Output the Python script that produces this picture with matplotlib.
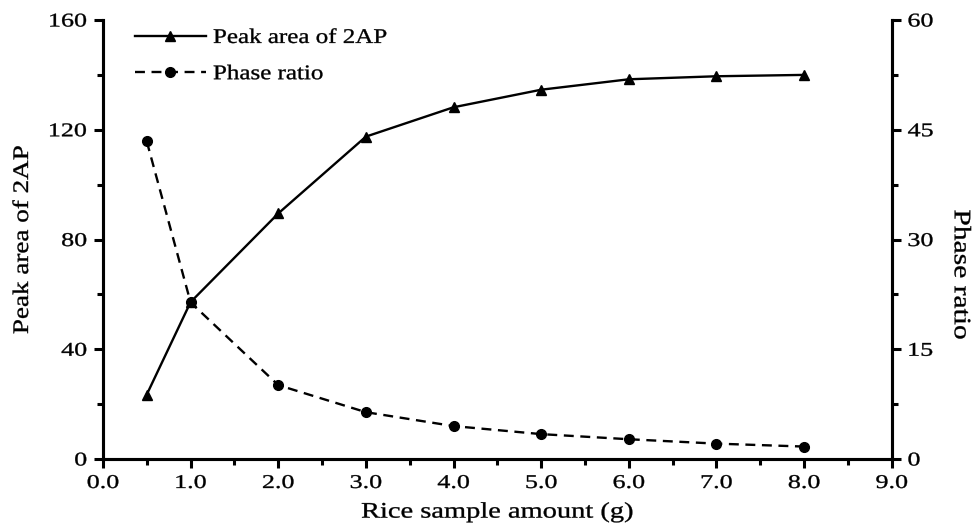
import matplotlib
matplotlib.use("Agg")
import matplotlib.pyplot as plt
from matplotlib.ticker import MultipleLocator, FormatStrFormatter
from matplotlib.patheffects import AbstractPathEffect
from matplotlib.transforms import Affine2D

plt.rcParams['font.family'] = ['Liberation Serif', 'DejaVu Serif']

rice_amount = [0.5, 1.0, 2.0, 3.0, 4.0, 5.0, 6.0, 7.0, 8.0]
peak_area = [23.5, 57.2, 89.5, 117.5, 128.2, 134.6, 138.4, 139.5, 140.0]
phase_ratio = [43.4, 21.4, 10.1, 6.4, 4.5, 3.4, 2.7, 2.1, 1.7]


class StretchX(AbstractPathEffect):
    """Widen glyphs along the text direction around an anchor, slightly emboldened."""
    def __init__(self, sx, anchor='center', weight=0.25):
        super().__init__()
        self.sx = sx
        self.anchor = anchor
        self.weight = weight

    def draw_path(self, renderer, gc, tpath, affine, rgbFace=None):
        ext = tpath.get_extents()
        if self.anchor == 'left':
            px = ext.x0
        elif self.anchor == 'right':
            px = ext.x1
        else:
            px = 0.5 * (ext.x0 + ext.x1)
        t = Affine2D().translate(-px, 0).scale(self.sx, 1).translate(px, 0) + affine
        gc0 = renderer.new_gc()
        gc0.copy_properties(gc)
        gc0.set_linewidth(self.weight)
        if rgbFace is not None:
            gc0.set_foreground(rgbFace)
        renderer.draw_path(gc0, tpath, t, rgbFace)
        gc0.restore()


fig = plt.figure(figsize=(9.75, 5.31), dpi=100)
ax = fig.add_axes([0.1056, 0.1356, 0.809, 0.8267])
ax2 = ax.twinx()

l1, = ax.plot(rice_amount, peak_area, '-', color='black', lw=1.7,
              marker='^', markersize=7.5, label='Peak area of 2AP')
l2, = ax2.plot(rice_amount, phase_ratio, '--', color='black', lw=1.7,
               dashes=(4.2, 2.8), marker='o', markersize=7, label='Phase ratio')

ax.set_xlim(0, 9)
ax.set_ylim(0, 160)
ax2.set_ylim(0, 60)

ax.xaxis.set_major_locator(MultipleLocator(1))
ax.xaxis.set_minor_locator(MultipleLocator(0.5))
ax.xaxis.set_major_formatter(FormatStrFormatter('%.1f'))
ax.yaxis.set_major_locator(MultipleLocator(40))
ax.yaxis.set_minor_locator(MultipleLocator(20))
ax2.yaxis.set_major_locator(MultipleLocator(15))
ax2.yaxis.set_minor_locator(MultipleLocator(7.5))

for a in (ax, ax2):
    a.spines['top'].set_visible(False)
    for s in ('left', 'right', 'bottom'):
        a.spines[s].set_linewidth(2.2)
    a.tick_params(which='major', direction='out', length=6.5, width=2.2,
                  labelsize=14, pad=5)
    a.tick_params(which='minor', direction='out', length=4, width=2.2)

ax.set_xlabel('Rice sample amount (g)', fontsize=16)
ax.xaxis.set_label_coords(0.5, -0.1)
ax.set_ylabel('Peak area of 2AP', fontsize=16)
ax.yaxis.set_label_coords(-0.0887, 0.5)
ax2.set_ylabel('Phase ratio', fontsize=17, rotation=270, va='bottom')
ax2.yaxis.set_label_coords(1.0735, 0.42)

leg = ax.legend(handles=[l1, l2], loc='upper left', bbox_to_anchor=(0.0406, 0.981),
                frameon=False, fontsize=15, handlelength=3.4, handletextpad=0.35,
                labelspacing=0.8, borderpad=0, borderaxespad=0)

fig.canvas.draw()
for t in ax.get_xticklabels():
    t.set_path_effects([StretchX(1.34, 'center')])
for t in ax.get_yticklabels():
    t.set_path_effects([StretchX(1.34, 'right')])
for t in ax2.get_yticklabels():
    t.set_path_effects([StretchX(1.34, 'left')])
ax.xaxis.label.set_path_effects([StretchX(1.28, 'center')])
ax.yaxis.label.set_path_effects([StretchX(1.22, 'center')])
ax2.yaxis.label.set_path_effects([StretchX(1.25, 'center')])
for t in leg.get_texts():
    t.set_path_effects([StretchX(1.2, 'left')])

fig.savefig('out.png', dpi=100)
